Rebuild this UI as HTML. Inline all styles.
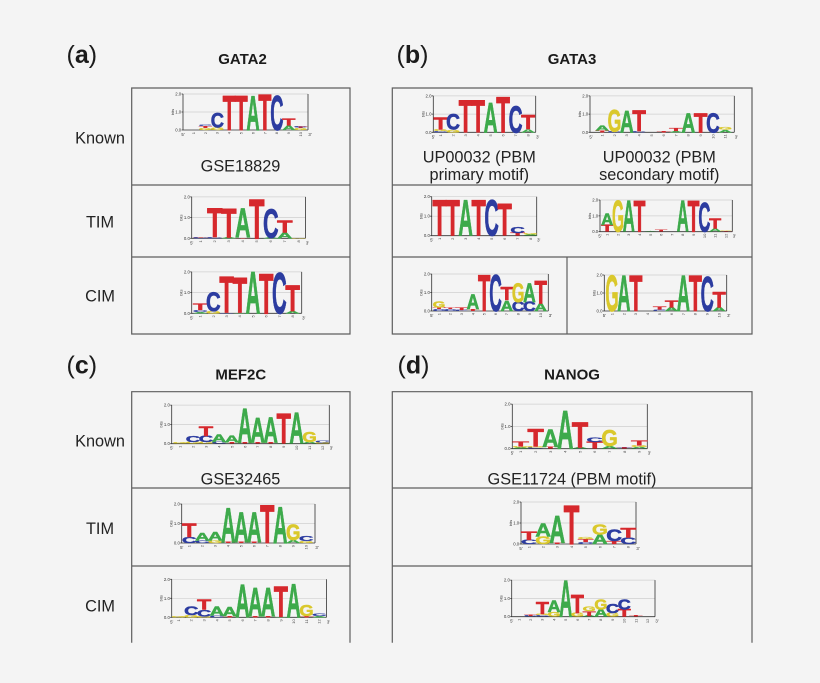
<!DOCTYPE html>
<html><head><meta charset="utf-8">
<style>
html,body{margin:0;padding:0;background:#f4f4f4}
svg{display:block;--cap:6.9}
text{font-family:"Liberation Sans",Arial,sans-serif}
.pl{font-size:25px;fill:#1b1b1b}
.ttl{font-size:15px;font-weight:bold;fill:#1b1b1b;text-anchor:middle}
.rl{font-size:16.3px;fill:#232323;text-anchor:middle}
.bx{fill:none;stroke:#5e5e5e;stroke-width:1.2}
.gr{fill:none;stroke:#cfcfcf;stroke-width:.7}
.ak{fill:none;stroke:#333;stroke-width:.8}
.tk{font-size:4.3px;fill:#333;text-anchor:end}
.bt{font-size:4px;fill:#333;text-anchor:middle}
.pr{font-size:4.3px;fill:#333;text-anchor:middle}
.nm text{font-size:4px;fill:#444;text-anchor:end}
.lg text{font-weight:bold;font-size:10px;stroke-width:.6px;vector-effect:non-scaling-stroke;stroke-linejoin:round;transform:translate(calc(var(--i)*7px - 0.35px),calc(var(--b,0)*-1px)) scale(var(--sx),calc(var(--h)/var(--cap)))}
.A{fill:#3daa4b;stroke:#3daa4b;--sx:1.08}
.C{fill:#2c3ca0;stroke:#2c3ca0;--sx:1.08}
.G{fill:#dac82c;stroke:#dac82c;--sx:1.0}
.T{fill:#d6282d;stroke:#d6282d;--sx:1.28}
</style></head><body>
<svg width="820" height="683" viewBox="0 0 820 683">
<rect width="820" height="683" fill="#f4f4f4"/>

<text class="pl" x="66.5" y="63">(<tspan font-weight="bold">a</tspan>)</text>
<text class="pl" x="396.5" y="63">(<tspan font-weight="bold">b</tspan>)</text>
<text class="pl" x="66.5" y="373.3">(<tspan font-weight="bold">c</tspan>)</text>
<text class="pl" x="397.5" y="373.3">(<tspan font-weight="bold">d</tspan>)</text>
<text class="ttl" x="242.5" y="64">GATA2</text>
<text class="ttl" x="572" y="64">GATA3</text>
<text class="ttl" x="240.8" y="379.3">MEF2C</text>
<text class="ttl" x="572" y="379.3">NANOG</text>

<text class="rl" x="100" y="143.3">Known</text>
<text class="rl" x="100" y="227.3">TIM</text>
<text class="rl" x="100" y="301.7">CIM</text>
<text class="rl" x="100" y="446.7">Known</text>
<text class="rl" x="100" y="534">TIM</text>
<text class="rl" x="100" y="611.7">CIM</text>

<text class="rl" x="240.5" y="171.7">GSE18829</text>
<text class="rl" x="479.3" y="162.3">UP00032 (PBM</text>
<text class="rl" x="479.3" y="180">primary motif)</text>
<text class="rl" x="659.3" y="162.3">UP00032 (PBM</text>
<text class="rl" x="659.3" y="180">secondary motif)</text>
<text class="rl" x="240.5" y="484.3">GSE32465</text>
<text class="rl" x="572" y="484.3">GSE11724 (PBM motif)</text>

<path class="bx" d="M131.7 88H350V334H131.7ZM131.7 185H350M131.7 257H350"/>
<path class="bx" d="M392.3 88H752V334H392.3ZM392.3 185H752M392.3 257H752M567 257V334"/>
<path class="bx" d="M131.7 642.7V391.7H350V642.7M131.7 488H350M131.7 566H350"/>
<path class="bx" d="M392.3 642.7V391.7H752V642.7M392.3 488H752M392.3 566H752"/>

<!-- a1 -->
<path class="gr" d="M183 94H308M183 112H308"/>
<path class="ak" d="M183 94V130H308M308 94V130M181.5 94H183M181.5 112H183M181.5 130H183"/>
<text class="tk" x="181.2" y="95.5">2.0</text><text class="tk" x="181.2" y="113.5">1.0</text><text class="tk" x="181.2" y="131.5">0.0</text>
<text class="bt" transform="translate(174 112) rotate(-90)">bits</text>
<text class="pr" x="183" y="136">5'</text><text class="pr" x="310" y="136">3'</text>
<g class="nm" transform="translate(194.95 132) rotate(-90)"><text y="0">1</text><text y="11.9">2</text><text y="23.8">3</text><text y="35.7">4</text><text y="47.6">5</text><text y="59.5">6</text><text y="71.4">7</text><text y="83.3">8</text><text y="95.2">9</text><text y="107.1">10</text></g>
<g class="lg" transform="translate(187.5 130) scale(1.7 18)">
<text class="G" style="--i:1;--h:.12">G</text><text class="T" style="--i:1;--b:.12;--h:.1">T</text><text class="C" style="--i:1;--b:.22;--h:.08">C</text>
<text class="G" style="--i:2;--h:.15">G</text><text class="C" style="--i:2;--b:.15;--h:.8">C</text>
<text class="T" style="--i:3;--h:1.9">T</text>
<text class="T" style="--i:4;--h:1.9">T</text>
<text class="A" style="--i:5;--h:1.9">A</text>
<text class="T" style="--i:6;--h:1.95">T</text>
<text class="C" style="--i:7;--h:1.9">C</text>
<text class="A" style="--i:8;--h:.25">A</text><text class="T" style="--i:8;--b:.25;--h:.4">T</text>
<text class="G" style="--i:9;--h:.1">G</text><text class="T" style="--i:9;--b:.1;--h:.05">T</text><text class="C" style="--i:9;--b:.15;--h:.05">C</text>
</g>

<!-- a2 -->
<path class="gr" d="M191.7 196.9H305.5M191.7 217.6H305.5"/>
<path class="ak" d="M191.7 196.9V238.3H305.5M305.5 196.9V238.3M190.2 196.9H191.7M190.2 217.6H191.7M190.2 238.3H191.7"/>
<text class="tk" x="189.9" y="198.4">2.0</text><text class="tk" x="189.9" y="219.1">1.0</text><text class="tk" x="189.9" y="239.8">0.0</text>
<text class="bt" transform="translate(182.7 217.6) rotate(-90)">bits</text>
<text class="pr" x="191.7" y="244.3">5'</text><text class="pr" x="307.5" y="244.3">3'</text>
<g class="nm" transform="translate(202.2 240.3) rotate(-90)"><text y="0">1</text><text y="14">2</text><text y="28">3</text><text y="42">4</text><text y="56">5</text><text y="70">6</text><text y="84">7</text><text y="98">8</text></g>
<g class="lg" transform="translate(193.7 238.3) scale(2 20.7)">
<text class="C" style="--i:0;--h:.05">C</text><text class="T" style="--i:0;--b:.05;--h:.04">T</text>
<text class="C" style="--i:1;--h:.06">C</text><text class="T" style="--i:1;--b:.06;--h:1.39">T</text>
<text class="A" style="--i:2;--h:.05">A</text><text class="T" style="--i:2;--b:.05;--h:1.4">T</text>
<text class="T" style="--i:3;--h:.04">T</text><text class="A" style="--i:3;--b:.04;--h:1.38">A</text>
<text class="T" style="--i:4;--h:1.9">T</text>
<text class="A" style="--i:5;--h:.05">A</text><text class="C" style="--i:5;--b:.05;--h:1.37">C</text>
<text class="A" style="--i:6;--h:.28">A</text><text class="T" style="--i:6;--b:.28;--h:.57">T</text>
<text class="G" style="--i:7;--h:.04">G</text>
</g>

<!-- a3 -->
<path class="gr" d="M191.7 271.9H301.7M191.7 292.6H301.7"/>
<path class="ak" d="M191.7 271.9V313.3H301.7M301.7 271.9V313.3M190.2 271.9H191.7M190.2 292.6H191.7M190.2 313.3H191.7"/>
<text class="tk" x="189.9" y="273.4">2.0</text><text class="tk" x="189.9" y="294.1">1.0</text><text class="tk" x="189.9" y="314.8">0.0</text>
<text class="bt" transform="translate(182.7 292.6) rotate(-90)">bits</text>
<text class="pr" x="191.7" y="319.3">5'</text><text class="pr" x="303.7" y="319.3">3'</text>
<g class="nm" transform="translate(201.6 315.3) rotate(-90)"><text y="0">1</text><text y="13.2">2</text><text y="26.4">3</text><text y="39.6">4</text><text y="52.8">5</text><text y="66">6</text><text y="79.2">7</text><text y="92.4">8</text></g>
<g class="lg" transform="translate(193.5 313.3) scale(1.8857 20.7)">
<text class="A" style="--i:0;--h:.06">A</text><text class="C" style="--i:0;--b:.06;--h:.09">C</text><text class="T" style="--i:0;--b:.15;--h:.3">T</text>
<text class="G" style="--i:1;--h:.12">G</text><text class="C" style="--i:1;--b:.12;--h:.88">C</text>
<text class="C" style="--i:2;--h:.03">C</text><text class="T" style="--i:2;--b:.03;--h:1.74">T</text>
<text class="A" style="--i:3;--h:.04">A</text><text class="T" style="--i:3;--b:.04;--h:1.68">T</text>
<text class="A" style="--i:4;--h:2">A</text>
<text class="T" style="--i:5;--h:1.92">T</text>
<text class="C" style="--i:6;--h:1.94">C</text>
<text class="A" style="--i:7;--h:.12">A</text><text class="T" style="--i:7;--b:.12;--h:1.23">T</text>
</g>

<!-- b1 -->
<path class="gr" d="M433.3 95.9H535.7M433.3 114.1H535.7"/>
<path class="ak" d="M433.3 95.9V132.3H535.7M535.7 95.9V132.3M431.8 95.9H433.3M431.8 114.1H433.3M431.8 132.3H433.3"/>
<text class="tk" x="431.5" y="97.4">2.0</text><text class="tk" x="431.5" y="115.6">1.0</text><text class="tk" x="431.5" y="133.8">0.0</text>
<text class="bt" transform="translate(424.3 114.1) rotate(-90)">bits</text>
<text class="pr" x="433.3" y="138.3">5'</text><text class="pr" x="537.7" y="138.3">3'</text>
<g class="nm" transform="translate(442.05 134.3) rotate(-90)"><text y="0">1</text><text y="12.5">2</text><text y="25">3</text><text y="37.5">4</text><text y="50">5</text><text y="62.5">6</text><text y="75">7</text><text y="87.5">8</text></g>
<g class="lg" transform="translate(434.3 132.3) scale(1.7857 18.2)">
<text class="C" style="--i:0;--h:.06">C</text><text class="G" style="--i:0;--b:.06;--h:.09">G</text><text class="T" style="--i:0;--b:.15;--h:.65">T</text>
<text class="G" style="--i:1;--h:.15">G</text><text class="C" style="--i:1;--b:.15;--h:.85">C</text>
<text class="T" style="--i:2;--h:1.76">T</text>
<text class="T" style="--i:3;--h:1.76">T</text>
<text class="A" style="--i:4;--h:1.6">A</text>
<text class="T" style="--i:5;--h:1.95">T</text>
<text class="C" style="--i:6;--h:1.45">C</text>
<text class="A" style="--i:7;--h:.18">A</text><text class="T" style="--i:7;--b:.18;--h:.77">T</text>
</g>

<!-- b2 -->
<path class="gr" d="M590 95.9H734.3M590 114.1H734.3"/>
<path class="ak" d="M590 95.9V132.3H734.3M734.3 95.9V132.3M588.5 95.9H590M588.5 114.1H590M588.5 132.3H590"/>
<text class="tk" x="588.2" y="97.4">2.0</text><text class="tk" x="588.2" y="115.6">1.0</text><text class="tk" x="588.2" y="133.8">0.0</text>
<text class="bt" transform="translate(581 114.1) rotate(-90)">bits</text>
<text class="pr" x="591" y="138.3">5'</text><text class="pr" x="736.3" y="138.3">3'</text>
<g class="nm" transform="translate(603.65 134.3) rotate(-90)"><text y="0">1</text><text y="12.3">2</text><text y="24.6">3</text><text y="36.9">4</text><text y="49.2">5</text><text y="61.5">6</text><text y="73.8">7</text><text y="86.1">8</text><text y="98.4">9</text><text y="110.7">10</text><text y="123">11</text></g>
<g class="lg" transform="translate(596 132.3) scale(1.757 18.2)">
<text class="T" style="--i:0;--h:.1">T</text><text class="A" style="--i:0;--b:.1;--h:.28">A</text>
<text class="C" style="--i:1;--h:.05">C</text><text class="G" style="--i:1;--b:.05;--h:1.2">G</text>
<text class="A" style="--i:2;--h:1.2">A</text>
<text class="C" style="--i:3;--h:.06">C</text><text class="T" style="--i:3;--b:.06;--h:1.14">T</text>
<text class="T" style="--i:5;--h:.08">T</text>
<text class="A" style="--i:6;--h:.08">A</text><text class="T" style="--i:6;--b:.08;--h:.17">T</text>
<text class="A" style="--i:7;--h:1.05">A</text>
<text class="T" style="--i:8;--h:1.05">T</text>
<text class="C" style="--i:9;--h:1.05">C</text>
<text class="A" style="--i:10;--h:.15">A</text><text class="G" style="--i:10;--b:.15;--h:.15">G</text>
</g>

<!-- b3 -->
<path class="gr" d="M431.7 196.7H536.7M431.7 216.2H536.7"/>
<path class="ak" d="M431.7 196.7V235.7H536.7M536.7 196.7V235.7M430.2 196.7H431.7M430.2 216.2H431.7M430.2 235.7H431.7"/>
<text class="tk" x="429.9" y="198.2">2.0</text><text class="tk" x="429.9" y="217.7">1.0</text><text class="tk" x="429.9" y="237.2">0.0</text>
<text class="bt" transform="translate(422.7 216.2) rotate(-90)">bits</text>
<text class="pr" x="431.7" y="241.7">5'</text><text class="pr" x="538.7" y="241.7">3'</text>
<g class="nm" transform="translate(441 237.7) rotate(-90)"><text y="0">1</text><text y="13">2</text><text y="26">3</text><text y="39">4</text><text y="52">5</text><text y="65">6</text><text y="78">7</text><text y="91">8</text></g>
<g class="lg" transform="translate(433 235.7) scale(1.857 19.5)">
<text class="T" style="--i:0;--h:1.8">T</text>
<text class="T" style="--i:1;--h:1.8">T</text>
<text class="A" style="--i:2;--h:1.8">A</text>
<text class="T" style="--i:3;--h:1.8">T</text>
<text class="C" style="--i:4;--h:1.8">C</text>
<text class="T" style="--i:5;--h:1.62">T</text>
<text class="T" style="--i:6;--h:.15">T</text><text class="C" style="--i:6;--b:.15;--h:.3">C</text>
<text class="A" style="--i:7;--h:.06">A</text><text class="G" style="--i:7;--b:.06;--h:.06">G</text>
</g>

<!-- b4 -->
<path class="gr" d="M600 200H732.3M600 215.85H732.3"/>
<path class="ak" d="M600 200V231.7H732.3M732.3 200V231.7M598.5 200H600M598.5 215.85H600M598.5 231.7H600"/>
<text class="tk" x="598.2" y="201.5">2.0</text><text class="tk" x="598.2" y="217.3">1.0</text><text class="tk" x="598.2" y="233.2">0.0</text>
<text class="bt" transform="translate(591 215.85) rotate(-90)">bits</text>
<text class="pr" x="600" y="237.7">5'</text><text class="pr" x="734.3" y="237.7">3'</text>
<g class="nm" transform="translate(608.6 233.7) rotate(-90)"><text y="0">1</text><text y="10.8">2</text><text y="21.6">3</text><text y="32.4">4</text><text y="43.2">5</text><text y="54">6</text><text y="64.8">7</text><text y="75.6">8</text><text y="86.4">9</text><text y="97.2">10</text><text y="108">11</text><text y="118.8">12</text></g>
<g class="lg" transform="translate(601.7 231.7) scale(1.5429 15.85)">
<text class="T" style="--i:0;--h:.42">T</text><text class="A" style="--i:0;--b:.42;--h:.73">A</text>
<text class="G" style="--i:1;--h:1.95">G</text>
<text class="A" style="--i:2;--h:1.95">A</text>
<text class="T" style="--i:3;--h:1.95">T</text>
<text class="A" style="--i:4;--h:.05">A</text>
<text class="T" style="--i:5;--h:.12">T</text>
<text class="A" style="--i:7;--h:1.95">A</text>
<text class="T" style="--i:8;--h:1.95">T</text>
<text class="C" style="--i:9;--h:1.8">C</text>
<text class="A" style="--i:10;--h:.2">A</text><text class="T" style="--i:10;--b:.2;--h:.64">T</text>
<text class="T" style="--i:11;--h:.05">T</text><text class="G" style="--i:11;--b:.05;--h:.05">G</text>
</g>

<!-- b5 -->
<path class="gr" d="M431.7 274H548.3M431.7 292.5H548.3"/>
<path class="ak" d="M431.7 274V311H548.3M548.3 274V311M430.2 274H431.7M430.2 292.5H431.7M430.2 311H431.7"/>
<text class="tk" x="429.9" y="275.5">2.0</text><text class="tk" x="429.9" y="294">1.0</text><text class="tk" x="429.9" y="312.5">0.0</text>
<text class="bt" transform="translate(422.7 292.5) rotate(-90)">bits</text>
<text class="pr" x="431.7" y="317">5'</text><text class="pr" x="550.3" y="317">3'</text>
<g class="nm" transform="translate(440.45 313) rotate(-90)"><text y="0">1</text><text y="11.3">2</text><text y="22.6">3</text><text y="33.9">4</text><text y="45.2">5</text><text y="56.5">6</text><text y="67.8">7</text><text y="79.1">8</text><text y="90.4">9</text><text y="101.7">10</text></g>
<g class="lg" transform="translate(433.3 311) scale(1.6143 18.5)">
<text class="C" style="--i:0;--h:.1">C</text><text class="T" style="--i:0;--b:.1;--h:.1">T</text><text class="G" style="--i:0;--b:.2;--h:.3">G</text>
<text class="C" style="--i:1;--h:.1">C</text><text class="T" style="--i:1;--b:.1;--h:.08">T</text>
<text class="C" style="--i:2;--h:.05">C</text><text class="T" style="--i:2;--b:.05;--h:.15">T</text>
<text class="T" style="--i:3;--h:.1">T</text><text class="A" style="--i:3;--b:.1;--h:.8">A</text>
<text class="T" style="--i:4;--h:1.95">T</text>
<text class="C" style="--i:5;--h:1.95">C</text>
<text class="A" style="--i:6;--h:.55">A</text><text class="T" style="--i:6;--b:.6;--h:.7">T</text>
<text class="C" style="--i:7;--h:.5">C</text><text class="G" style="--i:7;--b:.5;--h:1">G</text>
<text class="C" style="--i:8;--h:.5">C</text><text class="A" style="--i:8;--b:.5;--h:1">A</text>
<text class="A" style="--i:9;--h:.4">A</text><text class="T" style="--i:9;--b:.4;--h:1.2">T</text>
</g>

<!-- b6 -->
<path class="gr" d="M604.3 275H726.7M604.3 293H726.7"/>
<path class="ak" d="M604.3 275V311H726.7M726.7 275V311M602.8 275H604.3M602.8 293H604.3M602.8 311H604.3"/>
<text class="tk" x="602.5" y="276.5">2.0</text><text class="tk" x="602.5" y="294.5">1.0</text><text class="tk" x="602.5" y="312.5">0.0</text>
<text class="bt" transform="translate(595.3 293) rotate(-90)">bits</text>
<text class="pr" x="604.3" y="317">5'</text><text class="pr" x="728.7" y="317">3'</text>
<g class="nm" transform="translate(613.45 313) rotate(-90)"><text y="0">1</text><text y="11.9">2</text><text y="23.8">3</text><text y="35.7">4</text><text y="47.6">5</text><text y="59.5">6</text><text y="71.4">7</text><text y="83.3">8</text><text y="95.2">9</text><text y="107.1">10</text></g>
<g class="lg" transform="translate(606 311) scale(1.7 18)">
<text class="G" style="--i:0;--h:1.95">G</text>
<text class="A" style="--i:1;--h:1.95">A</text>
<text class="T" style="--i:2;--h:1.95">T</text>
<text class="C" style="--i:4;--h:.08">C</text><text class="T" style="--i:4;--b:.08;--h:.17">T</text>
<text class="A" style="--i:5;--h:.2">A</text><text class="T" style="--i:5;--b:.2;--h:.4">T</text>
<text class="A" style="--i:6;--h:1.95">A</text>
<text class="T" style="--i:7;--h:1.95">T</text>
<text class="C" style="--i:8;--h:1.9">C</text>
<text class="A" style="--i:9;--h:.2">A</text><text class="T" style="--i:9;--b:.2;--h:.85">T</text>
</g>

<!-- c1 -->
<path class="gr" d="M171.7 405.1H329.3M171.7 424.4H329.3"/>
<path class="ak" d="M171.7 405.1V443.7H329.3M329.3 405.1V443.7M170.2 405.1H171.7M170.2 424.4H171.7M170.2 443.7H171.7"/>
<text class="tk" x="169.9" y="406.6">2.0</text><text class="tk" x="169.9" y="425.9">1.0</text><text class="tk" x="169.9" y="445.2">0.0</text>
<text class="bt" transform="translate(162.7 424.4) rotate(-90)">bits</text>
<text class="pr" x="171.7" y="449.7">5'</text><text class="pr" x="331.3" y="449.7">3'</text>
<g class="nm" transform="translate(181.5 445.7) rotate(-90)"><text y="0">1</text><text y="12.95">2</text><text y="25.9">3</text><text y="38.85">4</text><text y="51.8">5</text><text y="64.75">6</text><text y="77.7">7</text><text y="90.65">8</text><text y="103.6">9</text><text y="116.55">10</text><text y="129.5">11</text><text y="142.45">12</text></g>
<g class="lg" transform="translate(173.5 443.7) scale(1.85 19.3)">
<text class="G" style="--i:0;--h:.05">G</text>
<text class="G" style="--i:1;--h:.1">G</text><text class="C" style="--i:1;--b:.1;--h:.3">C</text>
<text class="G" style="--i:2;--h:.08">G</text><text class="C" style="--i:2;--b:.08;--h:.32">C</text><text class="T" style="--i:2;--b:.4;--h:.48">T</text>
<text class="C" style="--i:3;--h:.1">C</text><text class="A" style="--i:3;--b:.1;--h:.4">A</text>
<text class="T" style="--i:4;--h:.05">T</text><text class="A" style="--i:4;--b:.05;--h:.35">A</text>
<text class="T" style="--i:5;--h:.06">T</text><text class="A" style="--i:5;--b:.06;--h:1.77">A</text>
<text class="T" style="--i:6;--h:.06">T</text><text class="A" style="--i:6;--b:.06;--h:1.25">A</text>
<text class="T" style="--i:7;--h:.06">T</text><text class="A" style="--i:7;--b:.06;--h:1.3">A</text>
<text class="A" style="--i:8;--h:.04">A</text><text class="T" style="--i:8;--b:.04;--h:1.53">T</text>
<text class="A" style="--i:9;--h:1.6">A</text>
<text class="A" style="--i:10;--h:.08">A</text><text class="G" style="--i:10;--b:.08;--h:.54">G</text>
<text class="G" style="--i:11;--h:.05">G</text><text class="C" style="--i:11;--b:.05;--h:.1">C</text>
</g>

<!-- c2 -->
<path class="gr" d="M181.7 504H315M181.7 523.5H315"/>
<path class="ak" d="M181.7 504V543H315M315 504V543M180.2 504H181.7M180.2 523.5H181.7M180.2 543H181.7"/>
<text class="tk" x="179.9" y="505.5">2.0</text><text class="tk" x="179.9" y="525">1.0</text><text class="tk" x="179.9" y="544.5">0.0</text>
<text class="bt" transform="translate(172.7 523.5) rotate(-90)">bits</text>
<text class="pr" x="181.7" y="549">5'</text><text class="pr" x="317" y="549">3'</text>
<g class="nm" transform="translate(190.7 545) rotate(-90)"><text y="0">1</text><text y="13">2</text><text y="26">3</text><text y="39">4</text><text y="52">5</text><text y="65">6</text><text y="78">7</text><text y="91">8</text><text y="104">9</text><text y="117">10</text></g>
<g class="lg" transform="translate(182.7 543) scale(1.857 19.5)">
<text class="C" style="--i:0;--h:.3">C</text><text class="T" style="--i:0;--b:.3;--h:.67">T</text>
<text class="C" style="--i:1;--h:.12">C</text><text class="A" style="--i:1;--b:.12;--h:.38">A</text>
<text class="G" style="--i:2;--h:.12">G</text><text class="A" style="--i:2;--b:.12;--h:.43">A</text>
<text class="T" style="--i:3;--h:.05">T</text><text class="A" style="--i:3;--b:.05;--h:1.73">A</text>
<text class="T" style="--i:4;--h:.05">T</text><text class="A" style="--i:4;--b:.05;--h:1.5">A</text>
<text class="T" style="--i:5;--h:.05">T</text><text class="A" style="--i:5;--b:.05;--h:1.5">A</text>
<text class="T" style="--i:6;--h:1.95">T</text>
<text class="A" style="--i:7;--h:1.85">A</text>
<text class="A" style="--i:8;--h:.15">A</text><text class="G" style="--i:8;--b:.15;--h:.77">G</text>
<text class="G" style="--i:9;--h:.1">G</text><text class="C" style="--i:9;--b:.1;--h:.25">C</text>
</g>

<!-- c3 -->
<path class="gr" d="M171.7 579.3H326.5M171.7 598.3H326.5"/>
<path class="ak" d="M171.7 579.3V617.3H326.5M326.5 579.3V617.3M170.2 579.3H171.7M170.2 598.3H171.7M170.2 617.3H171.7"/>
<text class="tk" x="169.9" y="580.8">2.0</text><text class="tk" x="169.9" y="599.8">1.0</text><text class="tk" x="169.9" y="618.8">0.0</text>
<text class="bt" transform="translate(162.7 598.3) rotate(-90)">bits</text>
<text class="pr" x="171.7" y="623.3">5'</text><text class="pr" x="328.5" y="623.3">3'</text>
<g class="nm" transform="translate(179.9 619.3) rotate(-90)"><text y="0">1</text><text y="12.8">2</text><text y="25.6">3</text><text y="38.4">4</text><text y="51.2">5</text><text y="64">6</text><text y="76.8">7</text><text y="89.6">8</text><text y="102.4">9</text><text y="115.2">10</text><text y="128">11</text><text y="140.8">12</text></g>
<g class="lg" transform="translate(172 617.3) scale(1.8286 19)">
<text class="G" style="--i:0;--h:.06">G</text>
<text class="G" style="--i:1;--h:.12">G</text><text class="C" style="--i:1;--b:.12;--h:.43">C</text>
<text class="G" style="--i:2;--h:.05">G</text><text class="C" style="--i:2;--b:.05;--h:.35">C</text><text class="T" style="--i:2;--b:.4;--h:.55">T</text>
<text class="C" style="--i:3;--h:.1">C</text><text class="A" style="--i:3;--b:.1;--h:.46">A</text>
<text class="T" style="--i:4;--h:.08">T</text><text class="A" style="--i:4;--b:.08;--h:.47">A</text>
<text class="A" style="--i:5;--h:1.7">A</text>
<text class="T" style="--i:6;--h:.06">T</text><text class="A" style="--i:6;--b:.06;--h:1.47">A</text>
<text class="T" style="--i:7;--h:.06">T</text><text class="A" style="--i:7;--b:.06;--h:1.47">A</text>
<text class="A" style="--i:8;--h:.03">A</text><text class="T" style="--i:8;--b:.03;--h:1.57">T</text>
<text class="A" style="--i:9;--h:1.74">A</text>
<text class="T" style="--i:10;--h:.08">T</text><text class="G" style="--i:10;--b:.08;--h:.57">G</text>
<text class="A" style="--i:11;--h:.06">A</text><text class="C" style="--i:11;--b:.06;--h:.14">C</text>
</g>

<!-- d1 -->
<path class="gr" d="M512.3 404.1H647.3M512.3 426.4H647.3"/>
<path class="ak" d="M512.3 404.1V448.7H647.3M647.3 404.1V448.7M510.8 404.1H512.3M510.8 426.4H512.3M510.8 448.7H512.3"/>
<text class="tk" x="510.5" y="405.6">2.0</text><text class="tk" x="510.5" y="427.9">1.0</text><text class="tk" x="510.5" y="450.2">0.0</text>
<text class="bt" transform="translate(503.3 426.4) rotate(-90)">bits</text>
<text class="pr" x="512.3" y="454.7">5'</text><text class="pr" x="649.3" y="454.7">3'</text>
<g class="nm" transform="translate(522.2 450.7) rotate(-90)"><text y="0">1</text><text y="14.8">2</text><text y="29.6">3</text><text y="44.4">4</text><text y="59.2">5</text><text y="74">6</text><text y="88.8">7</text><text y="103.6">8</text><text y="118.4">9</text></g>
<g class="lg" transform="translate(513.3 448.7) scale(2.1143 22.3)">
<text class="A" style="--i:0;--h:.05">A</text><text class="G" style="--i:0;--b:.05;--h:.05">G</text><text class="T" style="--i:0;--b:.1;--h:.24">T</text>
<text class="C" style="--i:1;--h:.05">C</text><text class="G" style="--i:1;--b:.05;--h:.05">G</text><text class="T" style="--i:1;--b:.1;--h:.77">T</text>
<text class="T" style="--i:2;--h:.08">T</text><text class="A" style="--i:2;--b:.08;--h:.76">A</text>
<text class="A" style="--i:3;--h:1.69">A</text>
<text class="A" style="--i:4;--h:.05">A</text><text class="T" style="--i:4;--b:.05;--h:1.11">T</text>
<text class="T" style="--i:5;--h:.3">T</text><text class="C" style="--i:5;--b:.3;--h:.2">C</text>
<text class="A" style="--i:6;--h:.12">A</text><text class="G" style="--i:6;--b:.12;--h:.72">G</text>
<text class="T" style="--i:7;--h:.05">T</text><text class="C" style="--i:7;--b:.05;--h:.03">C</text>
<text class="A" style="--i:8;--h:.08">A</text><text class="G" style="--i:8;--b:.08;--h:.07">G</text><text class="T" style="--i:8;--b:.15;--h:.24">T</text>
</g>

<!-- d2 -->
<path class="gr" d="M521 502H636M521 523H636"/>
<path class="ak" d="M521 502V544H636M636 502V544M519.5 502H521M519.5 523H521M519.5 544H521"/>
<text class="tk" x="519.2" y="503.5">2.0</text><text class="tk" x="519.2" y="524.5">1.0</text><text class="tk" x="519.2" y="545.5">0.0</text>
<text class="bt" transform="translate(512 523) rotate(-90)">bits</text>
<text class="pr" x="521" y="550">5'</text><text class="pr" x="638" y="550">3'</text>
<g class="nm" transform="translate(530.3 546) rotate(-90)"><text y="0">1</text><text y="14.2">2</text><text y="28.4">3</text><text y="42.6">4</text><text y="56.8">5</text><text y="71">6</text><text y="85.2">7</text><text y="99.4">8</text></g>
<g class="lg" transform="translate(521.7 544) scale(2.0286 21)">
<text class="C" style="--i:0;--h:.2">C</text><text class="T" style="--i:0;--b:.2;--h:.38">T</text>
<text class="G" style="--i:1;--h:.35">G</text><text class="A" style="--i:1;--b:.35;--h:.62">A</text>
<text class="T" style="--i:2;--h:.05">T</text><text class="A" style="--i:2;--b:.05;--h:1.29">A</text>
<text class="T" style="--i:3;--h:1.84">T</text>
<text class="C" style="--i:4;--h:.1">C</text><text class="T" style="--i:4;--b:.1;--h:.15">T</text><text class="G" style="--i:4;--b:.25;--h:.1">G</text>
<text class="A" style="--i:5;--h:.45">A</text><text class="G" style="--i:5;--b:.45;--h:.49">G</text>
<text class="T" style="--i:6;--h:.15">T</text><text class="C" style="--i:6;--b:.15;--h:.54">C</text>
<text class="C" style="--i:7;--h:.3">C</text><text class="T" style="--i:7;--b:.3;--h:.44">T</text>
</g>

<!-- d3 -->
<path class="gr" d="M511.7 580.1H655M511.7 598.4H655"/>
<path class="ak" d="M511.7 580.1V616.7H655M655 580.1V616.7M510.2 580.1H511.7M510.2 598.4H511.7M510.2 616.7H511.7"/>
<text class="tk" x="509.9" y="581.6">2.0</text><text class="tk" x="509.9" y="599.9">1.0</text><text class="tk" x="509.9" y="618.2">0.0</text>
<text class="bt" transform="translate(502.7 598.4) rotate(-90)">bits</text>
<text class="pr" x="511.7" y="622.7">5'</text><text class="pr" x="657" y="622.7">3'</text>
<g class="nm" transform="translate(520.35 618.7) rotate(-90)"><text y="0">1</text><text y="11.7">2</text><text y="23.4">3</text><text y="35.1">4</text><text y="46.8">5</text><text y="58.5">6</text><text y="70.2">7</text><text y="81.9">8</text><text y="93.6">9</text><text y="105.3">10</text><text y="117">11</text><text y="128.7">12</text></g>
<g class="lg" transform="translate(513 616.7) scale(1.6714 18.3)">
<text class="C" style="--i:1;--h:.05">C</text><text class="T" style="--i:1;--b:.05;--h:.05">T</text>
<text class="C" style="--i:2;--h:.08">C</text><text class="G" style="--i:2;--b:.08;--h:.07">G</text><text class="T" style="--i:2;--b:.15;--h:.67">T</text>
<text class="G" style="--i:3;--h:.25">G</text><text class="A" style="--i:3;--b:.25;--h:.62">A</text>
<text class="A" style="--i:4;--h:1.96">A</text>
<text class="G" style="--i:5;--h:.2">G</text><text class="T" style="--i:5;--b:.2;--h:.98">T</text>
<text class="A" style="--i:6;--h:.05">A</text><text class="T" style="--i:6;--b:.05;--h:.25">T</text><text class="G" style="--i:6;--b:.3;--h:.25">G</text>
<text class="A" style="--i:7;--h:.4">A</text><text class="G" style="--i:7;--b:.4;--h:.55">G</text>
<text class="G" style="--i:8;--h:.2">G</text><text class="C" style="--i:8;--b:.2;--h:.49">C</text>
<text class="T" style="--i:9;--h:.4">T</text><text class="C" style="--i:9;--b:.4;--h:.55">C</text>
<text class="T" style="--i:10;--h:.08">T</text>
</g>
</svg>
</body></html>
